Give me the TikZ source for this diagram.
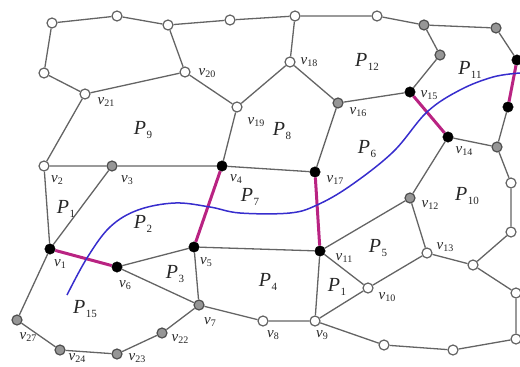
\documentclass[tikz,border=0pt]{standalone}
\usepackage{fontspec}
\setmainfont{Liberation Serif}
\definecolor{edgec}{RGB}{100,100,100}
\definecolor{magc}{RGB}{185,35,130}
\definecolor{bluec}{RGB}{55,45,205}
\definecolor{grayfill}{RGB}{150,150,150}
\newcommand{\vlab}[1]{\textit{v}\kern0.3pt\raisebox{-0.4ex}{\fontsize{10}{10}\selectfont #1}}
\newcommand{\plab}[1]{\textit{P}\kern0.3pt\raisebox{-0.45ex}{\fontsize{11}{11}\selectfont #1}}
\tikzset{
  wn/.style={circle,draw=edgec,fill=white,line width=1.2pt,inner sep=0pt,minimum size=10pt},
  gn/.style={circle,draw=edgec!80!black,fill=grayfill,line width=1.2pt,inner sep=0pt,minimum size=10pt},
  bn/.style={circle,draw=black,fill=black,inner sep=0pt,minimum size=10.5pt},
  edge/.style={draw=edgec,line width=1.3pt},
  cut/.style={draw=magc,line width=3pt},
  vt/.style={font=\fontsize{15}{15}\selectfont,inner sep=0pt,text=black!85},
  rt/.style={font=\fontsize{20}{20}\selectfont,inner sep=0pt,text=black!85}
}
\begin{document}
\begin{tikzpicture}[x=1pt,y=-1pt]
\useasboundingbox (0,0) rectangle (520,367);
% nodes
\node[wn] (t1) at (52,23) {};
\node[wn] (t2) at (117,16) {};
\node[wn] (t3) at (168,25) {};
\node[wn] (t4) at (230,20) {};
\node[wn] (t5) at (295,16) {};
\node[wn] (t6) at (377,16) {};
\node[gn] (t7) at (424,25) {};
\node[gn] (t8) at (496,28) {};
\node[bn] (r1) at (517,60) {};
\node[bn] (r2) at (508,107) {};
\node[gn] (g1) at (440,55) {};
\node[wn] (l1) at (44,73) {};
\node[wn] (v21) at (85,94) {};
\node[wn] (v20) at (185,72) {};
\node[wn] (v19) at (237,107) {};
\node[wn] (v18) at (290,62) {};
\node[gn] (v16) at (338,103) {};
\node[bn] (v15) at (410,92) {};
\node[bn] (v14) at (448,137) {};
\node[gn] (g2) at (497,147) {};
\node[wn] (w1) at (511,183) {};
\node[wn] (w2) at (511,232) {};
\node[wn] (w3) at (473,265) {};
\node[wn] (w4) at (516,293) {};
\node[wn] (w5) at (516,339) {};
\node[wn] (w6) at (453,350) {};
\node[wn] (w7) at (384,345) {};
\node[wn] (v2) at (44,166) {};
\node[gn] (v3) at (112,166) {};
\node[bn] (v4) at (222,166) {};
\node[bn] (v17) at (315,172) {};
\node[gn] (v12) at (410,198) {};
\node[bn] (v11) at (320,251) {};
\node[wn] (v13) at (427,253) {};
\node[wn] (v10) at (368,288) {};
\node[wn] (v9) at (315,321) {};
\node[wn] (v8) at (263,321) {};
\node[gn] (v7) at (199,305) {};
\node[bn] (v5) at (194,247) {};
\node[bn] (v6) at (117,267) {};
\node[bn] (v1) at (50,249) {};
\node[gn] (v27) at (17,320) {};
\node[gn] (v24) at (60,350) {};
\node[gn] (v23) at (117,354) {};
\node[gn] (v22) at (162,333) {};
% edges
\draw[edge] (t1) -- (t2) -- (t3) -- (t4) -- (t5) -- (t6) -- (t7) -- (t8) -- (r1);
\draw[edge] (t1) -- (l1) -- (v21) -- (v20) -- (t3);
\draw[edge] (v20) -- (v19) -- (v18) -- (t5);
\draw[edge] (v18) -- (v16) -- (v15) -- (g1) -- (t7);
\draw[edge] (v16) -- (v17);
\draw[edge] (v19) -- (v4);
\draw[edge] (v21) -- (v2) -- (v3) -- (v4) -- (v17);
\draw[edge] (v2) -- (v1);
\draw[edge] (v3) -- (v1);
\draw[edge] (v1) -- (v27) -- (v24) -- (v23) -- (v22) -- (v7);
\draw[edge] (v6) -- (v5);
\draw[edge] (v6) -- (v7);
\draw[edge] (v5) -- (v7);
\draw[edge] (v5) -- (v11);
\draw[edge] (v7) -- (v8) -- (v9) -- (v11);
\draw[edge] (v9) -- (v10);
\draw[edge] (v11) -- (v10);
\draw[edge] (v11) -- (v12) -- (v13) -- (v10);
\draw[edge] (v12) -- (v14);
\draw[edge] (v14) -- (g2) -- (r2);
\draw[edge] (g2) -- (w1) -- (w2) -- (w3);
\draw[edge] (v13) -- (w3) -- (w4) -- (w5) -- (w6) -- (w7) -- (v9);
% cut edges
\draw[cut] (v1) -- (v6);
\draw[cut] (v4) -- (v5);
\draw[cut] (v17) -- (v11);
\draw[cut] (v15) -- (v14);
\draw[cut] (r1) -- (r2);
% path curve
\draw[bluec,line width=1.5pt] plot[smooth,tension=0.6] coordinates {(67,295) (87,258) (110,227) (138,210) (175,203) (210,207) (240,213) (290,213) (317,205) (350,186) (393,152) (427,112) (460,90) (493,77) (520,73)};
% vertex labels
\node[vt] (lv21) at (106,102) {\vlab{21}};
\node[vt] (lv20) at (207,73) {\vlab{20}};
\node[vt] (lv19) at (256,122) {\vlab{19}};
\node[vt] (lv18) at (309,62) {\vlab{18}};
\node[vt] (lv16) at (358,112) {\vlab{16}};
\node[vt] (lv15) at (429,95) {\vlab{15}};
\node[vt] (lv14) at (464,151) {\vlab{14}};
\node[vt] (lv17) at (335,180) {\vlab{17}};
\node[vt] (lv12) at (430,205) {\vlab{12}};
\node[vt] (lv13) at (445,247) {\vlab{13}};
\node[vt] (lv11) at (344,258) {\vlab{11}};
\node[vt] (lv10) at (387,297) {\vlab{10}};
\node[vt] (lv9) at (322,335) {\vlab{9}};
\node[vt] (lv8) at (273,335) {\vlab{8}};
\node[vt] (lv7) at (210,322) {\vlab{7}};
\node[vt] (lv22) at (180,339) {\vlab{22}};
\node[vt] (lv23) at (137,358) {\vlab{23}};
\node[vt] (lv24) at (77,358) {\vlab{24}};
\node[vt] (lv27) at (28,337) {\vlab{27}};
\node[vt] (lv6) at (125,285) {\vlab{6}};
\node[vt] (lv5) at (206,262) {\vlab{5}};
\node[vt] (lv1) at (60,264) {\vlab{1}};
\node[vt] (lv2) at (57,180) {\vlab{2}};
\node[vt] (lv3) at (127,180) {\vlab{3}};
\node[vt] (lv4) at (236,179) {\vlab{4}};
% region labels
\node[rt] (p9) at (143,130) {\plab{9}};
\node[rt] (p8) at (282,131) {\plab{8}};
\node[rt] (p12) at (367,62) {\plab{12}};
\node[rt] (p11) at (470,70) {\plab{11}};
\node[rt] (p6) at (367,149) {\plab{6}};
\node[rt] (p10) at (467,196) {\plab{10}};
\node[rt] (p7) at (250,197) {\plab{7}};
\node[rt] (p2) at (143,224) {\plab{2}};
\node[rt] (p1a) at (66,209) {\plab{1}};
\node[rt] (p3) at (175,274) {\plab{3}};
\node[rt] (p4) at (268,282) {\plab{4}};
\node[rt] (p1b) at (337,287) {\plab{1}};
\node[rt] (p5) at (378,248) {\plab{5}};
\node[rt] (p15) at (85,309) {\plab{15}};
\end{tikzpicture}
\end{document}
